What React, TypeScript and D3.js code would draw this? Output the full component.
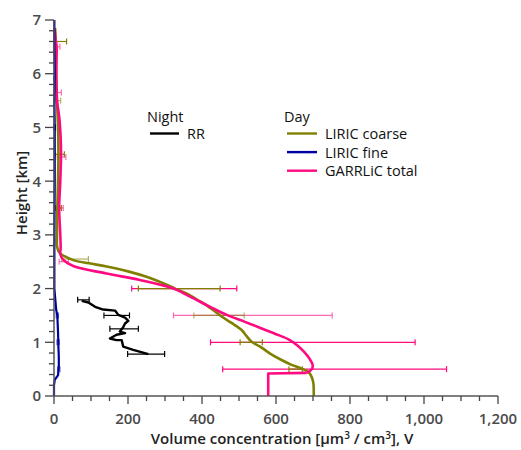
import React, { useEffect, useRef } from 'react';
import * as d3 from 'd3';

// [value, height km]
const coarse: [number, number][] = [
    [3, 6.85], [5, 6.5], [6, 6.0], [8, 5.5], [11, 5.0], [12, 4.5], [11, 4.0], [9, 3.5],
    [8, 3.0], [8, 2.8], [12, 2.7], [16, 2.66], [52, 2.53], [95, 2.47], [142, 2.41],
    [200, 2.32], [250, 2.22], [295, 2.1], [327, 2.0], [358, 1.91], [385, 1.8], [403, 1.73],
    [430, 1.6], [453, 1.48], [480, 1.36], [507, 1.23], [520, 1.12], [534, 1.01], [557, 0.92],
    [584, 0.79], [615, 0.67], [642, 0.58], [669, 0.51], [687, 0.45], [696, 0.36], [701, 0.24],
    [702, 0.1], [702, 0]
];

const fine: [number, number][] = [
    [1, 7.0], [1, 6.5], [2, 6.0], [1, 5.5], [2, 5.0], [2, 4.0], [1, 3.0], [1, 2.5],
    [1, 2.0], [6, 1.6], [9, 1.5], [11, 1.17], [12, 0.9], [13, 0.73], [13, 0.55], [11, 0.39],
    [2, 0.3], [0, 0.2], [0, 0]
];

// smooth part of the GARRLiC profile, then the step near the ground
const total: [number, number][] = [
    [1, 6.85], [5, 6.6], [7, 6.5], [6, 6.0], [8, 5.5], [14, 5.2], [18, 4.8], [19, 4.5],
    [17, 4.0], [14, 3.5], [17, 3.0], [18, 2.75], [17, 2.64], [26, 2.53], [52, 2.42],
    [142, 2.28], [232, 2.16], [323, 2.0], [368, 1.85], [422, 1.66], [467, 1.51], [516, 1.38],
    [553, 1.28], [597, 1.16], [635, 1.05], [658, 0.94], [676, 0.82], [690, 0.7], [699, 0.58],
    [697, 0.5], [683, 0.43]
];
const totalStep: [number, number][] = [
    [683, 0.43], [579, 0.42], [579, 0]
];

const rr: [number, number][] = [
    [75, 1.77], [93, 1.74], [111, 1.66], [133, 1.61], [165, 1.59], [174, 1.51], [192, 1.46],
    [201, 1.4], [192, 1.35], [187, 1.28], [178, 1.2], [192, 1.17], [169, 1.14], [151, 1.07],
    [169, 1.04], [183, 1.04], [187, 0.92], [214, 0.86], [255, 0.78]
];

// [height, low, high]
const coarseErr: [number, number, number][] = [
    [6.6, 0, 34], [5.5, 3, 18], [4.5, 3, 28], [3.5, 3, 20], [2.55, 21, 93],
    [2.0, 228, 449], [1.5, 378, 514], [1.0, 503, 563], [0.5, 635, 671]
];
const totalErr: [number, number, number][] = [
    [6.5, 8, 16], [5.65, 8, 20], [4.45, 9, 32], [3.5, 3, 25], [2.5, 14, 39],
    [2.0, 210, 494], [1.5, 323, 752], [1.0, 423, 976], [0.5, 456, 1061]
];
const rrErr: [number, number, number][] = [
    [1.79, 64, 95], [1.5, 135, 204], [1.25, 151, 228], [0.78, 199, 299]
];
const fineErr: [number, number, number][] = [
    [5.9, 0, 4], [5.0, 0, 4], [1.5, 6, 12], [1.0, 8, 14], [0.5, 10, 16]
];

const xTicks = [0, 200, 400, 600, 800, 1000, 1200];
const yTicks = [0, 1, 2, 3, 4, 5, 6, 7];

const colors = {
    coarse: '#808000',
    fine: '#0000a0',
    total: '#ff0a80',
    rr: '#000000'
};

const legendDay = [
    { label: 'LIRIC coarse', color: colors.coarse },
    { label: 'LIRIC fine', color: colors.fine },
    { label: 'GARRLiC total', color: colors.total }
];

const font = '"Open Sans", sans-serif';

export default function App() {
    const chartArea = useRef<SVGGElement>(null);
    const xAxis = useRef<SVGGElement>(null);
    const yAxis = useRef<SVGGElement>(null);

    const width = 521, height = 450;
    const margin = { left: 54, right: 23, top: 20, bottom: 54 };

    const xScale = d3.scaleLinear().domain([0, 1200]).range([0, width - margin.left - margin.right]);
    const yScale = d3.scaleLinear().domain([0, 7]).range([height - margin.top - margin.bottom, 0]);

    useEffect(() => {
        const g = d3.select(chartArea.current);
        g.selectAll('*').remove();

        const line = d3.line<[number, number]>()
            .x((d) => xScale(d[0]))
            .y((d) => yScale(d[1]));
        const smooth = d3.line<[number, number]>()
            .x((d) => xScale(d[0]))
            .y((d) => yScale(d[1]))
            .curve(d3.curveCatmullRom.alpha(0.5));

        const drawErr = (data: [number, number, number][], color: string, light: number[]) => {
            const eg = g.append('g').attr('stroke', color).attr('stroke-width', 1.2).attr('fill', 'none');
            data.forEach((d) => {
                const y = yScale(d[0]);
                const x0 = xScale(d[1]), x1 = xScale(d[2]);
                const op = light.includes(d[0]) ? 0.6 : 1;
                const b = eg.append('g').attr('opacity', op);
                b.append('line').attr('x1', x0).attr('x2', x1).attr('y1', y).attr('y2', y);
                b.append('line').attr('x1', x0).attr('x2', x0).attr('y1', y - 3).attr('y2', y + 3);
                b.append('line').attr('x1', x1).attr('x2', x1).attr('y1', y - 3).attr('y2', y + 3);
            });
        };

        drawErr(totalErr, colors.total, [1.5, 2.5, 3.5, 4.45, 5.65, 6.5]);
        drawErr(coarseErr, colors.coarse, [1.5, 2.55, 5.5]);
        drawErr(fineErr, colors.fine, [0.5, 1.0, 1.5]);

        g.append('path').datum(coarse)
            .attr('fill', 'none').attr('stroke', colors.coarse).attr('stroke-width', 2.6)
            .attr('stroke-linejoin', 'round').attr('d', smooth);
        g.append('path').datum(total)
            .attr('fill', 'none').attr('stroke', colors.total).attr('stroke-width', 2.6)
            .attr('stroke-linejoin', 'round').attr('d', smooth);
        g.append('path').datum(totalStep)
            .attr('fill', 'none').attr('stroke', colors.total).attr('stroke-width', 2.6)
            .attr('stroke-linejoin', 'round').attr('d', line);
        g.append('path').datum(fine)
            .attr('fill', 'none').attr('stroke', colors.fine).attr('stroke-width', 2.2)
            .attr('stroke-linejoin', 'round').attr('d', line);

        drawErr(rrErr, colors.rr, []);
        g.append('path').datum(rr)
            .attr('fill', 'none').attr('stroke', colors.rr).attr('stroke-width', 2.4)
            .attr('stroke-linejoin', 'round').attr('d', line);

        // axes
        const xa = d3.select(xAxis.current);
        xa.selectAll('*').remove();
        xa.append('line').attr('x1', 0).attr('x2', xScale(1200)).attr('stroke', '#555').attr('stroke-width', 1.5);
        d3.range(0, 1201, 50).forEach((v) => {
            const major = v % 200 === 0;
            xa.append('line').attr('x1', xScale(v)).attr('x2', xScale(v))
                .attr('y1', 0).attr('y2', major ? 8 : 5).attr('stroke', '#444').attr('stroke-width', 1.3);
        });
        xa.selectAll('text.tick').data(xTicks).enter().append('text')
            .attr('class', 'tick')
            .attr('x', (d) => xScale(d)).attr('y', 28)
            .attr('text-anchor', 'middle').attr('fill', '#4a4a4a')
            .style('font-family', font).style('font-size', '15px').style('font-weight', 600)
            .text((d) => d3.format(',')(d));

        const ya = d3.select(yAxis.current);
        ya.selectAll('*').remove();
        ya.append('line').attr('y1', 0).attr('y2', yScale(0)).attr('stroke', '#555').attr('stroke-width', 1.5);
        d3.range(0, 36).forEach((i) => {
            const v = i * 0.2;
            const major = i % 5 === 0;
            ya.append('line').attr('y1', yScale(v)).attr('y2', yScale(v))
                .attr('x1', major ? -9 : -5).attr('x2', 0).attr('stroke', '#444').attr('stroke-width', 1.3);
        });
        ya.selectAll('text.tick').data(yTicks).enter().append('text')
            .attr('class', 'tick')
            .attr('x', -13).attr('y', (d) => yScale(d)).attr('dy', '0.36em')
            .attr('text-anchor', 'end').attr('fill', '#4a4a4a')
            .style('font-family', font).style('font-size', '15px').style('font-weight', 600)
            .text((d) => d);
    }, []);

    const legendText = { fontFamily: font, fontSize: 14.5, fill: '#111' } as const;

    return (
        <svg width={width} height={height} style={{ position: 'absolute', left: 0, top: 0, background: '#fff' }}>
            <g ref={chartArea} transform={`translate(${margin.left}, ${margin.top})`} />
            <g ref={xAxis} transform={`translate(${margin.left}, ${height - margin.bottom})`} />
            <g ref={yAxis} transform={`translate(${margin.left}, ${margin.top})`} />

            <text x={282} y={444} textAnchor="middle" style={{ fontFamily: font, fontSize: 15, fontWeight: 600 }} fill="#222">
                Volume concentration [µm<tspan dy={-5} fontSize={10}>3</tspan><tspan dy={5}> / cm</tspan><tspan dy={-5} fontSize={10}>3</tspan><tspan dy={5}>], V</tspan>
            </text>
            <text transform="translate(27, 193) rotate(-90)" textAnchor="middle" style={{ fontFamily: font, fontSize: 15, fontWeight: 600 }} fill="#222">
                Height [km]
            </text>

            {/* legend */}
            <text x={147} y={122} style={legendText}>Night</text>
            <line x1={150} x2={179} y1={133.5} y2={133.5} stroke={colors.rr} strokeWidth={2.4} />
            <text x={187} y={139} style={legendText}>RR</text>

            <text x={284} y={122} style={legendText}>Day</text>
            {legendDay.map((d, i) => (
                <g key={d.label}>
                    <line x1={287} x2={317} y1={133.5 + i * 18.6} y2={133.5 + i * 18.6} stroke={d.color} strokeWidth={2.4} />
                    <text x={325} y={139 + i * 18.6} style={legendText}>{d.label}</text>
                </g>
            ))}
        </svg>
    );
}
